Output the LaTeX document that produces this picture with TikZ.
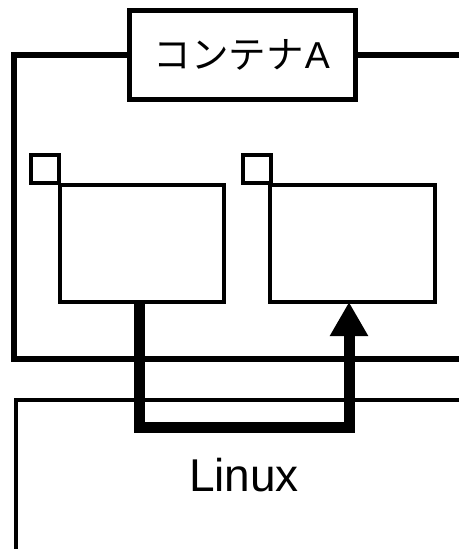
\documentclass[tikz,border=0pt]{standalone}
\usepackage{fontspec}
\setmainfont{Liberation Sans}
\newfontfamily\cjk{Noto Sans CJK JP}
\usetikzlibrary{arrows.meta}
\begin{document}
\begin{tikzpicture}[x=1pt,y=-1pt,
  frame/.style={line width=6pt,line join=miter},
  thinframe/.style={line width=4pt,line join=miter},
  boxstyle/.style={draw,line width=4pt,inner sep=0pt,outer sep=0pt,anchor=north west},
  titlebox/.style={draw,fill=white,line width=5pt,inner sep=0pt,outer sep=0pt,minimum width=226pt,minimum height=89pt,
    font=\fontsize{37.5}{40}\selectfont},
  flow/.style={line width=11pt,line join=miter,-{Triangle[width=36pt,length=34pt]}}]
\useasboundingbox (0,0) rectangle (459,549);
% container A outline
\coordinate (cTR) at (459,55);
\coordinate (cTL) at (14,55);
\coordinate (cBL) at (14,359);
\coordinate (cBR) at (459,359);
\draw[frame] (cTR) -- (cTL) -- (cBL) -- (cBR);
\node[titlebox] (title) at (242,54.5) {{\cjk コンテナ}\kern1pt A};
% Linux outline
\coordinate (lTR) at (459,399.5);
\coordinate (lTL) at (16,399.5);
\coordinate (lBL) at (16,549);
\draw[thinframe] (lTR) -- (lTL) -- (lBL);
\node[font=\fontsize{46}{50}\selectfont,anchor=base] (linux) at (244,491.5) {Linux};
% processes
\node[boxstyle,minimum width=28pt,minimum height=28pt] (sq1) at (31,154.5) {};
\node[boxstyle,minimum width=164.5pt,minimum height=117.5pt] (p1) at (59.5,184.5) {};
\node[boxstyle,minimum width=28.5pt,minimum height=28pt] (sq2) at (242.5,154.5) {};
\node[boxstyle,minimum width=165pt,minimum height=117.5pt] (p2) at (270,184.5) {};
% flow
\coordinate (b1) at (139,427);
\coordinate (b2) at (349,427);
\draw[flow] (p1.south -| b1) -- (b1) -- (b2) -- (p2.south -| b2);
\end{tikzpicture}
\end{document}
